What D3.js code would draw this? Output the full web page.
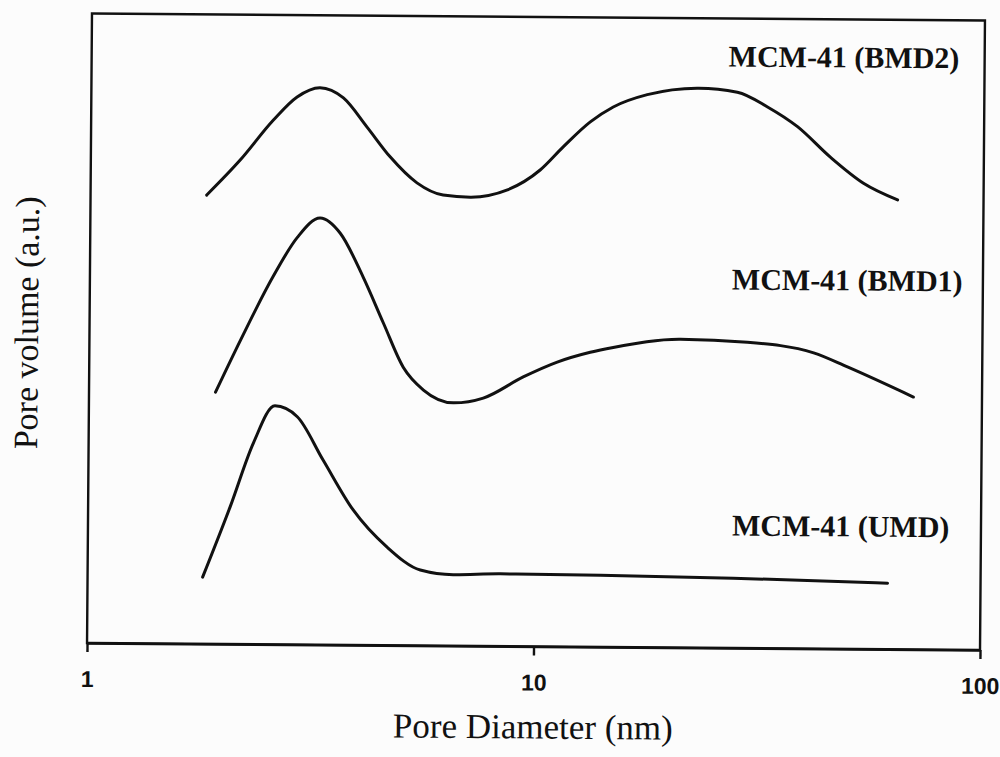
<html>
<head>
<style>
  body { margin:0; background:#fcfcfc; }
  svg { display:block; }
</style>
</head>
<body>
<script src="https://d3js.org/d3.v7.min.js"></script>
<script>
var width = 1000, height = 757;

// pore diameter (nm) and relative pore volume
const bmd2Diam = [1.82,2.16,2.56,2.89,3.25,3.67,4.15,4.68,5.38,6.16,7.09,8.58,10.15,11.42,13.12,14.76,17.58,22.9,27.97,32.7,38.2,45.3,53.8,64.2];
const bmd2Vol  = [71.3,76.9,83.3,87.0,88.5,86.9,82.3,77.6,73.5,71.6,71.3,72.5,75.7,79.4,83.4,85.8,87.8,88.9,88.3,86.0,82.9,78.1,74.0,71.4];

const bmd1Diam = [1.92,2.18,2.57,2.91,3.27,3.63,4.09,4.55,5.05,5.61,6.55,7.64,9.38,11.17,13.24,14.9,21.06,29.76,41.9,49.9,70.2];
const bmd1Vol  = [40.0,48.3,58.4,64.7,67.8,65.4,58.5,51.2,44.2,40.6,38.6,39.4,42.8,45.2,46.8,47.6,49.0,48.6,47.0,44.8,40.1];

const umdDiam = [1.81,2.08,2.34,2.61,2.93,3.35,3.92,4.68,5.56,6.59,8.4,14.07,27.9,61.9];
const umdVol  = [10.6,21.8,32.0,37.9,36.2,29.4,21.5,15.6,12.0,11.3,11.5,11.4,11.1,10.5];

const seriesNames = ["MCM-41 (BMD2)", "MCM-41 (BMD1)", "MCM-41 (UMD)"];
const xTicks = [1, 10, 100];
const xTitle = "Pore Diameter (nm)";
const yTitle = "Pore volume (a.u.)";

let margin = {left:89.5, top:17, right:17.5, bottom:110.5};
let w = width - margin.left - margin.right,
    h = height - margin.top - margin.bottom;

var svg = d3.select("body")
    .append("svg")
    .attr("width", width)
    .attr("height", height);

// the scan is tilted a little clockwise
let root = svg.append("g")
    .attr("transform", `rotate(0.45,${margin.left + w/2},${margin.top + h/2})`);

var xscale = d3.scaleLog().domain([1,100]).range([0,w]);
var yscale = d3.scaleLinear().domain([0,100]).range([h,0]);

let g = root.append("g")
    .attr("transform", `translate(${margin.left},${margin.top})`);

let serif = "'Liberation Serif','Times New Roman',serif";
let sans = "'Liberation Sans',Arial,sans-serif";

// frame
g.append("rect")
    .attr("x",0).attr("y",0).attr("width",w).attr("height",h)
    .attr("fill","none").attr("stroke","#111").attr("stroke-width",2.4);

let xAxis = g.append("g")
    .attr("transform", `translate(0,${h})`)
    .call(d3.axisBottom(xscale).tickValues(xTicks).tickFormat(d3.format("d")).tickSize(9).tickSizeOuter(0).tickPadding(0));
xAxis.attr("font-size", null).attr("font-family", null);
xAxis.select(".domain").attr("stroke","#111").attr("stroke-width",2.4);
xAxis.selectAll(".tick line").attr("stroke","#111").attr("stroke-width",2.4);
xAxis.selectAll(".tick text")
    .attr("y", 44).attr("dy", 0)
    .attr("fill","#111")
    .style("font-family", sans).style("font-size","23px").style("font-weight","bold");

let series = [
  {name:seriesNames[0], d:bmd2Diam, v:bmd2Vol},
  {name:seriesNames[1], d:bmd1Diam, v:bmd1Vol},
  {name:seriesNames[2], d:umdDiam, v:umdVol}
];

let line = d3.line()
    .x(p => xscale(p[0]))
    .y(p => yscale(p[1]))
    .curve(d3.curveMonotoneX);

g.selectAll(".curve")
    .data(series)
    .enter()
    .append("path")
    .classed("curve", true)
    .attr("d", s => line(d3.zip(s.d, s.v)))
    .attr("fill","none")
    .attr("stroke","#111")
    .attr("stroke-width",3)
    .attr("stroke-linejoin","round")
    .attr("stroke-linecap","round");

// series labels
let labelPos = [[637,48],[642,271],[644,517]];
g.selectAll(".lbl")
    .data(series)
    .enter()
    .append("text")
    .classed("lbl", true)
    .attr("x", (s,i) => labelPos[i][0])
    .attr("y", (s,i) => labelPos[i][1])
    .text(s => s.name)
    .attr("fill","#111")
    .style("font-family", serif)
    .style("font-weight","bold")
    .style("font-size","30px");

// axis titles
g.append("text")
    .attr("x", w/2).attr("y", h + 92)
    .attr("text-anchor","middle")
    .attr("fill","#111")
    .style("font-family", serif).style("font-size","35px")
    .text(xTitle);

g.append("text")
    .attr("transform", `translate(${38 - margin.left},${h/2 - 5}) rotate(-90)`)
    .attr("text-anchor","middle")
    .attr("fill","#111")
    .style("font-family", serif).style("font-size","34px")
    .text(yTitle);
</script>
</body>
</html>
